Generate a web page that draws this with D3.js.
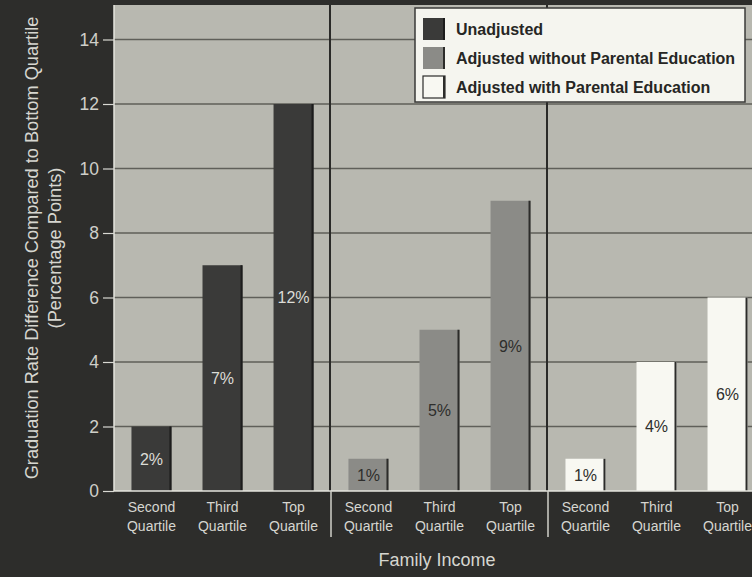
<!DOCTYPE html>
<html>
<head>
<meta charset="utf-8">
<script src="https://cdn.jsdelivr.net/npm/d3@7"></script>
<style>
  html, body { margin: 0; padding: 0; background: #2d2d2b; }
  svg { display: block; }
</style>
</head>
<body>
<svg id="chart" width="752" height="577"></svg>
<script>
// Graduation-rate gap versus the bottom income quartile, three model specifications
const series = ["Unadjusted", "Adjusted without Parental Education", "Adjusted with Parental Education"];
const quartiles = ["Second Quartile", "Third Quartile", "Top Quartile"];
const unadjusted = [2, 7, 12];
const adjustedNoEducation = [1, 5, 9];
const adjustedWithEducation = [1, 4, 6];
const yTicks = [0, 2, 4, 6, 8, 10, 12, 14];
const yTitle = ["Graduation Rate Difference Compared to Bottom Quartile", "(Percentage Points)"];
const xTitle = "Family Income";

const seriesValues = [unadjusted, adjustedNoEducation, adjustedWithEducation];
const fills = ["#3a3a39", "#8b8b87", "#f8f8f2"];
const edges = ["#1c1c1c", "#2c2c2a", "#2c2c2a"];
const labelColors = ["#dcdcd6", "#2e2e2c", "#2e2e2c"];

const rows = [];
series.forEach((s, i) => quartiles.forEach((q, j) => rows.push({ series: s, si: i, quartile: q, value: seriesValues[i][j] })));

const svg = d3.select("#chart");
const W = 752, H = 577;
const plot = { left: 114, right: 765, top: 5, bottom: 491 };
const font = "'Liberation Sans', Arial, sans-serif";
const light = "#d6d6d0";

const y = d3.scaleLinear().domain([0, 14]).range([plot.bottom, plot.bottom - 7 * 64.5]);
const xGroup = d3.scaleBand().domain(series).range([plot.left, plot.right]).padding(0);
const xInner = d3.scaleBand().domain(quartiles).range([0, xGroup.bandwidth()])
  .paddingInner(0.437).paddingOuter(0.246);

// page background
svg.append("rect").attr("width", W).attr("height", H).attr("fill", "#2d2d2b");

// plot area
svg.append("rect")
  .attr("x", plot.left).attr("y", plot.top)
  .attr("width", plot.right - plot.left).attr("height", plot.bottom - plot.top)
  .attr("fill", "#b8b8b0");

// horizontal gridlines
svg.append("g").selectAll("line").data(yTicks.filter(d => d > 0)).join("line")
  .attr("x1", plot.left).attr("x2", plot.right)
  .attr("y1", d => y(d)).attr("y2", d => y(d))
  .attr("stroke", "#5f5f59").attr("stroke-width", 1.5);

// vertical dividers between the three specifications
const dividers = series.slice(1).map(s => xGroup(s));
svg.append("g").selectAll("line").data(dividers).join("line")
  .attr("x1", d => d - 1).attr("x2", d => d - 1)
  .attr("y1", plot.top).attr("y2", plot.bottom)
  .attr("stroke", "#2a2a28").attr("stroke-width", 2);

// bars
const barG = svg.append("g");
const barX = d => xGroup(d.series) + xInner(d.quartile);
barG.selectAll("rect.bar").data(rows).join("rect")
  .attr("class", "bar")
  .attr("x", barX)
  .attr("y", d => y(d.value))
  .attr("width", xInner.bandwidth())
  .attr("height", d => y(0) - y(d.value))
  .attr("fill", d => fills[d.si]);
// shaded right edge on each bar
barG.selectAll("line.edge").data(rows).join("line")
  .attr("class", "edge")
  .attr("x1", d => barX(d) + xInner.bandwidth() - 1)
  .attr("x2", d => barX(d) + xInner.bandwidth() - 1)
  .attr("y1", d => y(d.value)).attr("y2", y(0))
  .attr("stroke", d => edges[d.si]).attr("stroke-width", 2);

// value labels inside bars
svg.append("g").selectAll("text").data(rows).join("text")
  .attr("x", d => barX(d) + xInner.bandwidth() / 2)
  .attr("y", d => (y(d.value) + y(0)) / 2)
  .attr("dy", "0.36em")
  .attr("text-anchor", "middle")
  .attr("font-family", font).attr("font-size", 16)
  .attr("fill", d => labelColors[d.si])
  .text(d => d.value + "%");

// axes lines
svg.append("line")
  .attr("x1", plot.left).attr("x2", plot.left)
  .attr("y1", plot.top).attr("y2", plot.bottom)
  .attr("stroke", "#e4e4de").attr("stroke-width", 1.5);
svg.append("line")
  .attr("x1", plot.left).attr("x2", W)
  .attr("y1", plot.bottom).attr("y2", plot.bottom)
  .attr("stroke", "#e4e4de").attr("stroke-width", 1.5);

// y axis ticks and labels
const yAxis = svg.append("g")
  .attr("transform", `translate(${plot.left},0)`)
  .call(d3.axisLeft(y).tickValues(yTicks).tickSize(11).tickPadding(4));
yAxis.select(".domain").remove();
yAxis.selectAll(".tick line").attr("stroke", "#d8d8d2").attr("stroke-width", 1.2);
yAxis.selectAll(".tick text")
  .attr("fill", "#cfcfc9").attr("font-family", font).attr("font-size", 17.5);

// divider lines continue through the category label band
svg.append("g").selectAll("line").data(dividers).join("line")
  .attr("x1", d => d).attr("x2", d => d)
  .attr("y1", plot.bottom).attr("y2", plot.bottom + 46)
  .attr("stroke", "#d0d0ca").attr("stroke-width", 1.5);

// category labels, two lines each
const catG = svg.append("g");
rows.forEach(d => {
  const t = catG.append("text")
    .attr("x", barX(d) + xInner.bandwidth() / 2)
    .attr("y", plot.bottom + 21)
    .attr("text-anchor", "middle")
    .attr("font-family", font).attr("font-size", 14)
    .attr("fill", light);
  const words = d.quartile.split(" ");
  t.append("tspan").attr("x", barX(d) + xInner.bandwidth() / 2).text(words[0]);
  t.append("tspan").attr("x", barX(d) + xInner.bandwidth() / 2).attr("dy", 19).text(words[1]);
});

// x axis title
svg.append("text")
  .attr("x", 437).attr("y", 566)
  .attr("text-anchor", "middle")
  .attr("font-family", font).attr("font-size", 18)
  .attr("fill", light)
  .text(xTitle);

// y axis title
const yt = svg.append("text")
  .attr("transform", `translate(38,${(plot.top + plot.bottom) / 2}) rotate(-90)`)
  .attr("text-anchor", "middle")
  .attr("font-family", font).attr("font-size", 18.2)
  .attr("fill", light);
yt.append("tspan").attr("x", 0).attr("y", 0).text(yTitle[0]);
yt.append("tspan").attr("x", 0).attr("y", 23).text(yTitle[1]);

// legend
const lg = svg.append("g").attr("transform", "translate(415,8)");
lg.append("rect").attr("width", 330).attr("height", 94)
  .attr("fill", "#f5f5ef").attr("stroke", "#3a3a38").attr("stroke-width", 1.5);
series.forEach((s, i) => {
  const row = lg.append("g").attr("transform", `translate(8,${10 + i * 29})`);
  row.append("rect").attr("width", 22).attr("height", 22)
    .attr("fill", fills[i]).attr("stroke", i === 2 ? "#2c2c2a" : "none").attr("stroke-width", 1.2);
  row.append("line").attr("x1", 21).attr("x2", 21).attr("y1", 0).attr("y2", 22)
    .attr("stroke", edges[i]).attr("stroke-width", 2);
  row.append("text").attr("x", 33).attr("y", 17)
    .attr("font-family", font).attr("font-weight", "bold").attr("font-size", 16)
    .attr("fill", "#262624")
    .text(s);
});
</script>
</body>
</html>
